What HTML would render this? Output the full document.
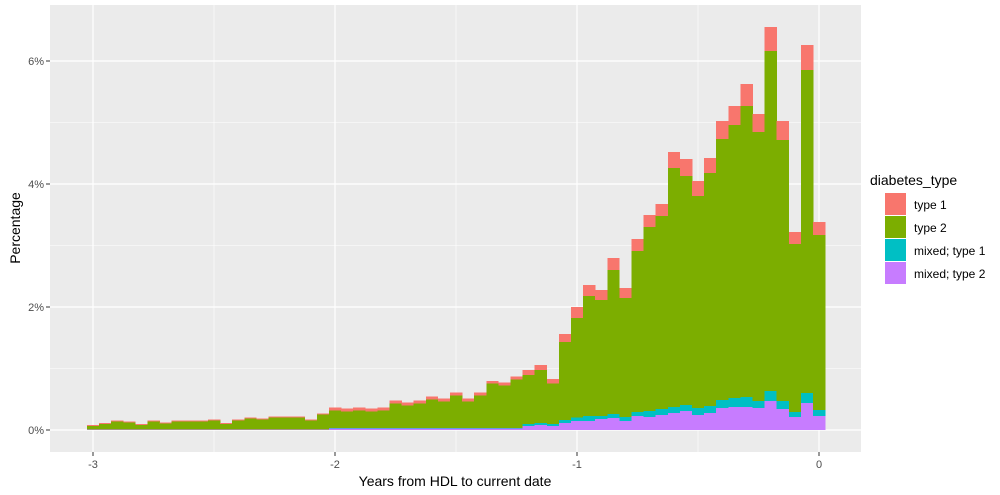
<!DOCTYPE html>
<html><head><meta charset="utf-8"><style>
body{margin:0;background:#fff;}
svg{display:block;font-family:"Liberation Sans",Arial,sans-serif;}
</style></head><body>
<svg id="chart" width="1000" height="495">
<rect x="50" y="5" width="811" height="447" fill="#ebebeb"/>
<g id="grid"></g><g id="bars" shape-rendering="crispEdges"></g><g id="axes"></g>
<text x="455" y="486" text-anchor="middle" font-size="14" fill="#000">Years from HDL to current date</text>
<text transform="translate(20,228) rotate(-90)" text-anchor="middle" font-size="14" fill="#000">Percentage</text>
<g>
<text x="870" y="185" font-size="14" fill="#000">diabetes_type</text>
<rect x="885" y="193" width="21" height="22" fill="#F8766D"/>
<text x="914" y="209" font-size="12">type 1</text>
<rect x="885" y="216" width="21" height="22" fill="#7CAE00"/>
<text x="914" y="232" font-size="12">type 2</text>
<rect x="885" y="239" width="21" height="22" fill="#00BFC4"/>
<text x="914" y="255" font-size="12">mixed; type 1</text>
<rect x="885" y="262" width="21" height="22" fill="#C77CFF"/>
<text x="914" y="278" font-size="12">mixed; type 2</text>
</g>
</svg>
<script>
const binStart = -3, binWidth = 0.05;
const purple = [0.005,0.005,0.005,0.005,0.005,0.005,0.005,0.005,0.005,0.005,0.005,0.005,0.005,0.005,0.005,0.005,0.005,0.005,0.005,0.005,
0.025,0.025,0.025,0.025,0.025,0.025,0.025,0.025,0.025,0.025,0.025,0.025,0.025,0.025,0.025,0.025,
0.065,0.081,0.065,0.114,0.146,0.146,0.179,0.195,0.146,0.228,0.211,0.244,0.276,0.309,0.244,0.276,0.358,0.374,0.374,0.358,0.472,0.341,0.211,0.439,0.228];
const teal = [0.005,0.005,0.005,0.005,0.005,0.005,0.005,0.005,0.005,0.005,0.005,0.005,0.005,0.005,0.005,0.005,0.005,0.005,0.005,0.005,
0.01,0.01,0.01,0.01,0.01,0.01,0.01,0.01,0.01,0.01,0.01,0.01,0.01,0.01,0.01,0.01,
0.033,0.033,0.033,0.049,0.054,0.081,0.049,0.065,0.065,0.065,0.098,0.098,0.098,0.098,0.114,0.114,0.130,0.146,0.163,0.114,0.163,0.130,0.081,0.163,0.098];
const green = [0.056,0.089,0.127,0.110,0.073,0.127,0.094,0.127,0.127,0.127,0.143,0.089,0.143,0.175,0.159,0.192,0.192,0.192,0.143,0.241,
0.283,0.267,0.283,0.267,0.283,0.397,0.364,0.397,0.462,0.430,0.527,0.430,0.527,0.720,0.690,0.787,
0.797,0.862,0.661,1.268,1.621,1.951,1.886,2.341,1.935,2.618,2.992,3.138,3.886,3.724,3.447,3.789,4.244,4.439,4.732,4.374,5.528,4.244,2.732,5.252,2.846];
const red = [0.015,0.015,0.015,0.015,0.015,0.015,0.015,0.015,0.015,0.015,0.015,0.015,0.015,0.015,0.015,0.015,0.015,0.015,0.015,0.015,
0.045,0.045,0.045,0.045,0.045,0.045,0.045,0.045,0.045,0.045,0.045,0.045,0.045,0.045,0.045,0.045,
0.081,0.081,0.070,0.130,0.179,0.179,0.163,0.195,0.163,0.195,0.195,0.195,0.260,0.276,0.244,0.244,0.293,0.309,0.358,0.293,0.390,0.309,0.195,0.407,0.211];
const xTicks = [-3,-2,-1,0];
const xTickLabels = ["-3","-2","-1","0"];
const yTicks = [0,2,4,6];
const yTickLabels = ["0%","2%","4%","6%"];

const NS="http://www.w3.org/2000/svg";
const xs = v => 819 + v*242;
const ys = v => 430 - v*61.5;
function mk(tag, attrs, parent){const e=document.createElementNS(NS,tag);for(const k in attrs)e.setAttribute(k,attrs[k]);parent.appendChild(e);return e;}
const grid=document.getElementById('grid'), bars=document.getElementById('bars'), axes=document.getElementById('axes');
for(let i=0;i<xTicks.length+1;i++){const v=-3.5+i;const x=xs(v);if(x<50||x>861)continue;
 const l=mk('line',{x1:x,x2:x,y1:5,y2:452,stroke:'#fff','stroke-width':0.6},grid);
 
 }
for(let v=1;v<=5;v+=2){const l=mk('line',{x1:50,x2:861,y1:ys(v),y2:ys(v),stroke:'#fff','stroke-width':0.6},grid);
 
 }
xTicks.forEach((v,i)=>{const x=xs(v);
 const l=mk('line',{x1:x,x2:x,y1:5,y2:452,stroke:'#fff','stroke-width':1.2},grid);
 
 
 const t=mk('line',{x1:x,x2:x,y1:452,y2:456,stroke:'#333','stroke-width':1},axes);
 
 
 const tx=mk('text',{x:x,y:468,'text-anchor':'middle','font-size':11,fill:'#4d4d4d'},axes);tx.textContent=xTickLabels[i];
 
 });
yTicks.forEach((v,i)=>{const y=ys(v);
 const l=mk('line',{x1:50,x2:861,y1:y,y2:y,stroke:'#fff','stroke-width':1.2},grid);
 
 
 const t=mk('line',{x1:46,x2:50,y1:y,y2:y,stroke:'#333','stroke-width':1},axes);
 
 
 const tx=mk('text',{x:44,y:y+4,'text-anchor':'end','font-size':11,fill:'#4d4d4d'},axes);tx.textContent=yTickLabels[i];
 
 });
const series=[[purple,'#C77CFF','mixed-type2'],[teal,'#00BFC4','mixed-type1'],[green,'#7CAE00','type2'],[red,'#F8766D','type1']];
for(let i=0;i<green.length;i++){
 const c=binStart+i*binWidth; const x0=xs(c-binWidth/2), x1=xs(c+binWidth/2);
 let cum=0;
 series.forEach(([arr,col,nm])=>{const v=arr[i];const y0=ys(cum),y1=ys(cum+v);cum+=v;
  const r=mk('rect',{x:x0,y:y1,width:x1-x0+0.3,height:Math.max(0,y0-y1),fill:col},bars);
  
  });
}
</script>
</body></html>
